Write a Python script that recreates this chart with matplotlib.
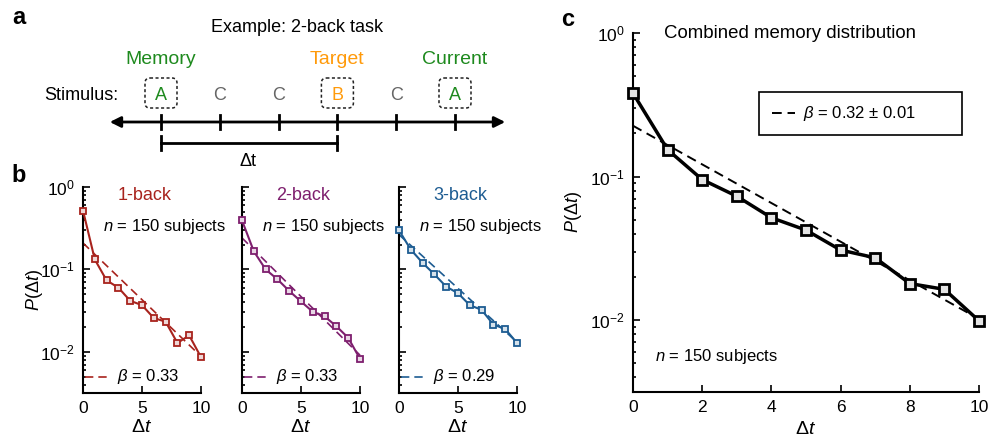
import numpy as np
import matplotlib.pyplot as plt
from matplotlib.colors import to_rgb
from matplotlib.patches import FancyBboxPatch, Rectangle, FancyArrowPatch
from matplotlib.ticker import LogLocator, NullFormatter, FixedLocator

plt.rcParams['font.family'] = ['Liberation Sans', 'DejaVu Sans']
plt.rcParams['mathtext.fontset'] = 'custom'
plt.rcParams['mathtext.rm'] = 'Liberation Sans'
plt.rcParams['mathtext.it'] = 'Liberation Sans:italic'
plt.rcParams['mathtext.default'] = 'regular'
plt.rcParams['font.size'] = 12

# ---- data ----
dt = [0, 1, 2, 3, 4, 5, 6, 7, 8, 9, 10]
fit_dt = [0, 10]

p_1back = [0.518, 0.132, 0.0736, 0.060, 0.0416, 0.0368, 0.0257, 0.0232, 0.0128, 0.0158, 0.0086]
p_2back = [0.393, 0.166, 0.100, 0.0759, 0.0548, 0.0408, 0.0306, 0.0269, 0.0204, 0.0148, 0.0082]
p_3back = [0.298, 0.174, 0.120, 0.087, 0.0618, 0.0514, 0.0368, 0.0323, 0.0214, 0.0189, 0.0128]
p_combined = [0.381, 0.154, 0.0953, 0.073, 0.0517, 0.0424, 0.0308, 0.0272, 0.0180, 0.0164, 0.0099]

fit_1back = [0.209, 0.0088]
fit_2back = [0.241, 0.0091]
fit_3back = [0.264, 0.0131]
fit_combined = [0.226, 0.0102]

task_names = ['1-back', '2-back', '3-back']
task_beta = ['0.33', '0.33', '0.29']
combined_beta = '0.32 ± 0.01'
n_subjects = 150

stimuli = ['A', 'C', 'C', 'B', 'C', 'A']
roles = ['Memory', '', '', 'Target', '', 'Current']

red = '#A8231D'
purple = '#7E1F6E'
blue = '#1D5C92'
green = '#1E8A1E'
orange = '#FF9A0A'
gray = '#666666'

W, H = 989, 445
fig = plt.figure(figsize=(W / 100, H / 100), dpi=100)


def px_axes(left, top, right, bottom):
    return fig.add_axes([left / W, 1 - bottom / H, (right - left) / W, (bottom - top) / H])


def tint(c, f=0.18):
    r, g, b = to_rgb(c)
    return (1 - f + f * r, 1 - f + f * g, 1 - f + f * b)


def style_log_axes(ax, xticks):
    ax.set_yscale('log')
    ax.set_ylim(10 ** -2.5, 1)
    ax.set_xlim(0, 10)
    ax.set_xticks(xticks)
    ax.yaxis.set_major_locator(FixedLocator([1e-2, 1e-1, 1]))
    ax.yaxis.set_minor_locator(LogLocator(base=10, subs=np.arange(2, 10)))
    ax.yaxis.set_minor_formatter(NullFormatter())
    for s in ['top', 'right']:
        ax.spines[s].set_visible(False)
    for s in ['left', 'bottom']:
        ax.spines[s].set_linewidth(1.5)
    ax.tick_params(which='both', direction='in', labelsize=12.5, width=1.2)
    ax.tick_params(which='major', length=5, pad=6)
    ax.tick_params(which='minor', length=2.5)
    ax.patch.set_visible(False)


# ---- panel b ----
b_lefts = [83, 242, 399]
colors = [red, purple, blue]
series = [p_1back, p_2back, p_3back]
fits = [fit_1back, fit_2back, fit_3back]
for i in range(3):
    ax = px_axes(b_lefts[i], 187, b_lefts[i] + 118, 393)
    style_log_axes(ax, [0, 5, 10])
    c = colors[i]
    ax.plot(fit_dt, fits[i], linestyle=(0, (5, 3)), color=c, lw=1.2, clip_on=False)
    ax.plot(dt, series[i], linestyle='-', marker='s', color=c, lw=1.5,
            markersize=5, markeredgewidth=1.3, markeredgecolor=c,
            markerfacecolor=tint(c), clip_on=False, zorder=3)
    ax.text(0.52, 0.96, task_names[i], transform=ax.transAxes, color=c,
            ha='center', va='center', fontsize=13)
    ax.text(0.17, 0.81, r'$\mathit{n}$ = %d subjects' % n_subjects,
            transform=ax.transAxes, ha='left', va='center', fontsize=12, clip_on=False)
    ax.plot([0.02, 0.24], [0.078, 0.078], linestyle=(0, (5, 3)), color=c, lw=1.2,
            transform=ax.transAxes, clip_on=False)
    ax.text(0.29, 0.078, r'$\mathit{\beta}$ = ' + task_beta[i], transform=ax.transAxes,
            ha='left', va='center', fontsize=12)
    ax.set_xlabel(r'$\mathit{\Delta t}$', fontsize=14, labelpad=2)
    if i == 0:
        ax.set_ylabel(r'$\mathit{P(\Delta t)}$', fontsize=13, labelpad=-4)
    else:
        ax.set_yticklabels([])

# ---- panel c ----
axc = px_axes(633, 33, 979, 392)
style_log_axes(axc, [0, 2, 4, 6, 8, 10])
axc.plot(fit_dt, fit_combined, linestyle=(0, (5, 3)), color='black', lw=1.4, clip_on=False)
axc.plot(dt, p_combined, linestyle='-', marker='s', color='black', lw=2.5,
         markersize=6.5, markeredgewidth=2, markeredgecolor='black',
         markerfacecolor='#e4e4e4', clip_on=False, zorder=3)
axc.text(0.454, 1.0, 'Combined memory distribution', transform=axc.transAxes,
         ha='center', va='center', fontsize=13.4)
axc.text(0.064, 0.0975, r'$\mathit{n}$ = %d subjects' % n_subjects,
         transform=axc.transAxes, ha='left', va='center', fontsize=12)
axc.add_patch(Rectangle((0.364, 0.716), 0.587, 0.12, transform=axc.transAxes,
                        fill=False, edgecolor='black', lw=1.2))
axc.plot([0.401, 0.468], [0.776, 0.776], linestyle=(0, (5, 3)), color='black', lw=1.4,
         transform=axc.transAxes)
axc.text(0.49, 0.776, r'$\mathit{\beta}$ = ' + combined_beta, transform=axc.transAxes,
         ha='left', va='center', fontsize=12)
axc.set_xlabel(r'$\mathit{\Delta t}$', fontsize=14, labelpad=4)
axc.set_ylabel(r'$\mathit{P(\Delta t)}$', fontsize=13, labelpad=4)

# ---- panel a (drawn in pixel coordinates) ----
ax0 = fig.add_axes([0, 0, 1, 1])
ax0.set_xlim(0, W)
ax0.set_ylim(H, 0)
ax0.axis('off')
ax0.patch.set_visible(False)

ax0.text(297, 28, 'Example: 2-back task', ha='center', va='center', fontsize=13)
ax0.text(118, 95, 'Stimulus:', ha='right', va='center', fontsize=13)
xs = [161 + k * 58.8 for k in range(len(stimuli))]
for k, (s, r) in enumerate(zip(stimuli, roles)):
    if r == 'Target':
        col = orange
    elif r:
        col = green
    else:
        col = gray
    ax0.text(xs[k], 95, s, ha='center', va='center', color=col, fontsize=13)
    if r:
        ax0.text(xs[k], 60, r, ha='center', va='center', color=col, fontsize=14)
        ax0.add_patch(FancyBboxPatch((xs[k] - 12, 82), 24, 22,
                                     boxstyle='round,pad=4,rounding_size=5',
                                     fill=False, ls=(0, (2, 1.6)), lw=1.1, ec='#222222'))
    ax0.plot([xs[k], xs[k]], [115, 129], color='black', lw=2)
ax0.add_patch(FancyArrowPatch((107, 122), (508, 122), arrowstyle='<|-|>',
                              mutation_scale=16, lw=2, color='black'))
ax0.plot([xs[0], xs[3]], [143, 143], color='black', lw=2)
ax0.plot([xs[0], xs[0]], [136, 150], color='black', lw=2)
ax0.plot([xs[3], xs[3]], [136, 150], color='black', lw=2)
ax0.text(248, 162, 'Δt', ha='center', va='center', fontsize=13)

ax0.text(19, 18, 'a', ha='center', va='center', fontsize=17, fontweight='bold')
ax0.text(19, 175, 'b', ha='center', va='center', fontsize=17, fontweight='bold')
ax0.text(568, 20, 'c', ha='center', va='center', fontsize=17, fontweight='bold')

fig.savefig('out.png', dpi=100)
